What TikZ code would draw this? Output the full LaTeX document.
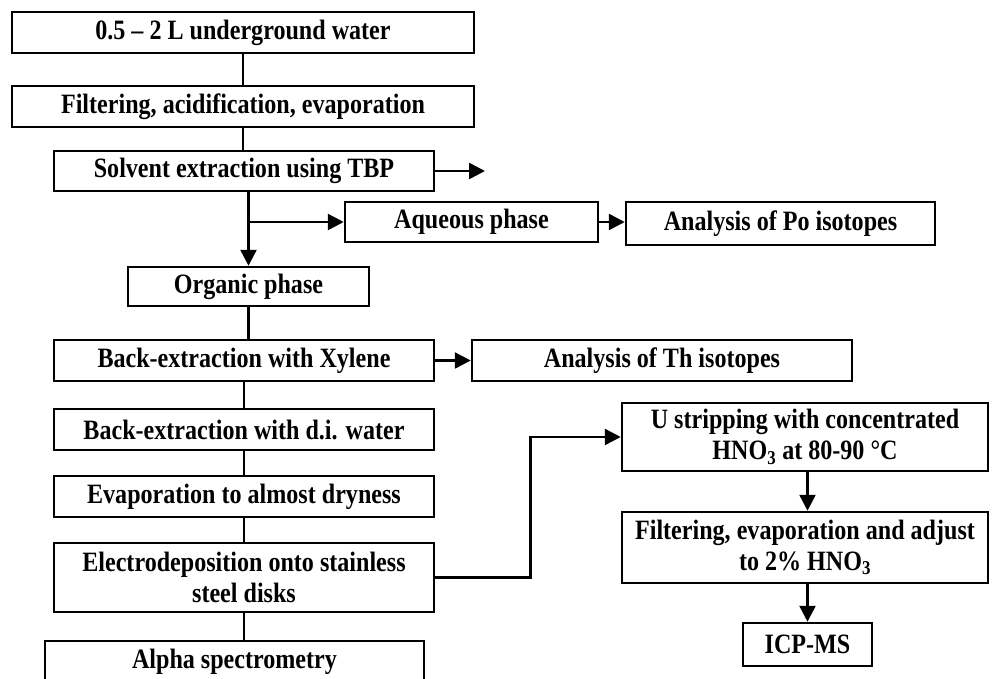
\documentclass[tikz,border=0pt]{standalone}
\usepackage{fontspec}
\setmainfont{Liberation Serif}[FakeStretch=0.86]
\usetikzlibrary{arrows.meta}
\begin{document}
\begin{tikzpicture}[x=1pt,y=-1pt,
  box/.style={draw, line width=2.5pt, inner sep=0pt, align=center,
    font=\fontsize{28}{31}\selectfont\bfseries},
  ln/.style={line width=2.5pt},
  arr/.style={line width=2.5pt, -{Triangle[length=16pt,width=16pt]}}]
\fill[white] (0,0) rectangle (992,679);
\useasboundingbox (0,0) rectangle (992,679);

\node[box, minimum width=462pt, minimum height=41pt] (b1) at (243,32.5) {0.5 -- 2 L underground water};
\node[box, minimum width=462pt, minimum height=41pt] (b2) at (243,106.5) {Filtering, acidification, evaporation};
\node[box, minimum width=380pt, minimum height=40pt] (b3) at (244,171) {Solvent extraction using TBP};
\node[box, minimum width=253pt, minimum height=40pt] (aq) at (471.5,222) {Aqueous phase};
\node[box, minimum width=309pt, minimum height=43pt] (po) at (780.5,223.5) {Analysis of Po isotopes};
\node[box, minimum width=241pt, minimum height=39pt] (org) at (248.5,286.5) {Organic phase};
\node[box, minimum width=380pt, minimum height=41pt] (xy) at (244,360.5) {Back-extraction with Xylene};
\node[box, minimum width=380pt, minimum height=41pt] (th) at (662,360.5) {Analysis of Th isotopes};
\node[box, minimum width=380pt, minimum height=41pt] (di) at (244,429.5) {Back-extraction with d.i. water};
\node[box, minimum width=380pt, minimum height=41pt] (ev) at (244,496.5) {Evaporation to almost dryness};
\node[box, minimum width=380pt, minimum height=69pt] (el) at (244,577.5) {Electrodeposition onto stainless\\steel disks};
\node[box, minimum width=379pt, minimum height=42pt] (al) at (234.5,662) {Alpha spectrometry};
\node[box, minimum width=366pt, minimum height=68pt] (us) at (805,437) {U stripping with concentrated\\HNO\textsubscript{3} at 80-90 °C};
\node[box, minimum width=366pt, minimum height=71pt] (f2) at (805,547.5) {Filtering, evaporation and adjust\\to 2\% HNO\textsubscript{3}};
\node[box, minimum width=129pt, minimum height=43pt] (icp) at (807.5,644.5) {ICP-MS};

\coordinate (tbpout) at (485,171);

\draw[ln] (b1.south) -- (b1.south |- b2.north);
\draw[ln] (b2.south) -- (b2.south |- b3.north);
\draw[arr] (b3.east) -- (tbpout);
\draw[arr] (org.north |- b3.south) -- (org.north);
\draw[arr] (org.north |- aq.west) -- (aq.west);
\draw[arr] (aq.east) -- (aq.east -| po.west);
\draw[ln] (org.south) -- (org.south |- xy.north);
\draw[arr] (xy.east) -- (th.west);
\draw[ln] (xy.south) -- (di.north);
\draw[ln] (di.south) -- (ev.north);
\draw[ln] (ev.south) -- (el.north);
\draw[ln] (el.south) -- (el.south |- al.north);
\draw[arr] (el.east) -- ++(95,0) |- (us.west);
\draw[arr] (icp.north |- us.south) -- (icp.north |- f2.north);
\draw[arr] (icp.north |- f2.south) -- (icp.north);
\end{tikzpicture}
\end{document}
